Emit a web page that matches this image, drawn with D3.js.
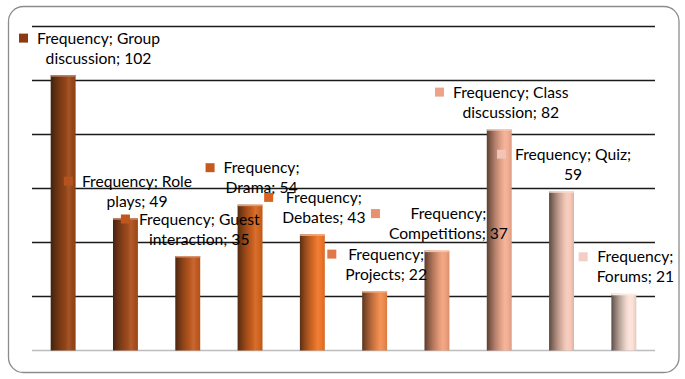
<!DOCTYPE html>
<html>
<head>
<meta charset="utf-8">
<script src="https://cdn.jsdelivr.net/npm/d3@7"></script>
<style>
  html, body { margin: 0; padding: 0; background: #ffffff; }
  svg { display: block; }
</style>
</head>
<body>
<svg id="chart" width="685" height="379"></svg>
<script>
// ---- data ----
const seriesName = "Frequency";
const categories = ["Group discussion", "Role plays", "Guest interaction", "Drama", "Debates",
                    "Projects", "Competitions", "Class discussion", "Quiz", "Forums"];
const values = [102, 49, 35, 54, 43, 22, 37, 82, 59, 21];
const yTicks = [0, 20, 40, 60, 80, 100, 120];
// number of words on the first line of each data label
const labelFirstLineWords = [2, 2, 2, 1, 1, 1, 1, 2, 2, 1];
// bar base colours (dark brown → pale pink)
const barColors = ["#9a4719", "#a94f1d", "#c25b20", "#d2631f", "#ee7528",
                   "#f08a4d", "#f0a07c", "#f3ae93", "#f6cab9", "#fbe2d8"];
const markerColors = ["#8b3a14", "#b4531d", "#c0561c", "#c55a1e", "#d9631f",
                      "#e0784a", "#e89070", "#eba38a", "#f0c5b5", "#f2cfc4"];

// ---- layout ----
const plot = { left: 32, right: 655, top: 26.5, bottom: 350.5 };
const svg = d3.select("#chart");
const defs = svg.append("defs");

// frame
svg.append("rect")
  .attr("x", 8.5).attr("y", 6.5).attr("width", 670.5).attr("height", 366)
  .attr("rx", 15).attr("ry", 15)
  .attr("fill", "#fff").attr("stroke", "#8c8c8c").attr("stroke-width", 1.3);

const x = d3.scaleBand().domain(categories).range([plot.left, plot.right])
  .paddingInner(0.6).paddingOuter(0.3);
const y = d3.scaleLinear().domain([0, 120]).range([plot.bottom, plot.top]);

// gridlines
svg.append("g").selectAll("line").data(yTicks).join("line")
  .attr("x1", plot.left).attr("x2", plot.right)
  .attr("y1", d => y(d)).attr("y2", d => y(d))
  .attr("stroke", d => d === 0 ? "#bdbdbd" : "#1a1a1a")
  .attr("stroke-width", 1.6);

// gradients for cylinder look
barColors.forEach((c, i) => {
  const g = defs.append("linearGradient").attr("id", "bg" + i)
    .attr("x1", "0%").attr("x2", "100%").attr("y1", "0%").attr("y2", "0%");
  const dark = t => d3.interpolateRgb(c, "#1e120a")(t);
  const light = t => d3.interpolateRgb(c, "#ffffff")(t);
  [[0, dark(0.72)], [0.12, dark(0.55)], [0.35, dark(0.28)], [0.6, dark(0.05)],
   [0.72, light(0.08)], [0.85, c], [1, dark(0.12)]]
    .forEach(([o, col]) => g.append("stop").attr("offset", o).attr("stop-color", col));
});

// bars
const bars = svg.append("g");
bars.selectAll("rect.bar").data(values).join("rect").attr("class", "bar")
  .attr("x", (d, i) => x(categories[i]))
  .attr("width", x.bandwidth())
  .attr("y", d => y(d))
  .attr("height", d => y(0) - y(d))
  .attr("fill", (d, i) => `url(#bg${i})`);
bars.selectAll("line.cap").data(values).join("line").attr("class", "cap")
  .attr("x1", (d, i) => x(categories[i])).attr("x2", (d, i) => x(categories[i]) + x.bandwidth())
  .attr("y1", d => y(d) + 0.75).attr("y2", d => y(d) + 0.75)
  .attr("stroke", (d, i) => d3.interpolateRgb(barColors[i], "#fff")(0.35))
  .attr("stroke-width", 1.5);

// data labels
const fontFamily = "Lato, Carlito, Calibri, 'Liberation Sans', sans-serif";
const probe = svg.append("text").attr("font-family", fontFamily).attr("font-size", 16).text("Frequency;");
const fs = 16 * 76 / probe.node().getComputedTextLength();
probe.remove();
const lineGap = 20;

const labels = svg.append("g").attr("font-family", fontFamily).attr("font-size", fs).attr("fill", "#000");
values.forEach((v, i) => {
  const words = `${seriesName}; ${categories[i]}; ${v}`.split(" ");
  const n = labelFirstLineWords[i];
  const lines = [words.slice(0, n).join(" "), words.slice(n).join(" ")];
  let cx = x(categories[i]) + x.bandwidth() / 2 + 11.5;
  const base = y(v) - 31.5;
  const t = labels.append("text").attr("text-anchor", "middle");
  lines.forEach((ln, k) => t.append("tspan").attr("x", cx).attr("y", base + k * lineGap).text(ln));
  // keep the label inside the frame
  let bb = t.node().getBBox();
  const minMarker = 19;
  if (bb.x - 18 < minMarker) {
    const shift = minMarker - (bb.x - 18);
    cx += shift;
    t.selectAll("tspan").attr("x", cx);
    bb = t.node().getBBox();
  }
  labels.append("rect")
    .attr("x", bb.x - 18).attr("y", base - 10)
    .attr("width", 9).attr("height", 9)
    .attr("fill", markerColors[i]);
  t.raise();
});
</script>
</body>
</html>
